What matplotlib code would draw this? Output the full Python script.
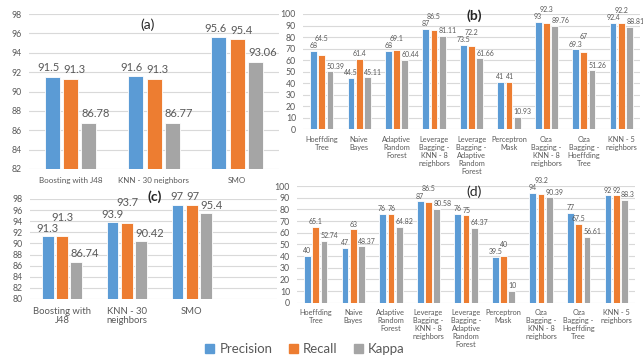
import matplotlib

matplotlib.use("Agg")
import matplotlib.pyplot as plt  # noqa: E402
import numpy as np  # noqa: E402

plt.rcParams.update({"font.family": ["Lato", "DejaVu Sans"]})

BLUE, ORANGE, GRAY = "#5b9bd5", "#ed7d31", "#a5a5a5"
TXT = "#595959"
GRID = "#d9d9d9"

# batch classifiers: (a) and (c)
BATCH_A = ["Boosting with J48", "KNN - 30 neighbors", "SMO"]
BATCH_C = ["Boosting with\nJ48", "KNN - 30\nneighbors", "SMO"]
A_PREC = [91.5, 91.6, 95.6]
A_REC = [91.3, 91.3, 95.4]
A_KAP = [86.78, 86.77, 93.06]
C_PREC = [91.3, 93.9, 97]
C_REC = [91.3, 93.7, 97]
C_KAP = [86.74, 90.42, 95.4]

# stream classifiers: (b) and (d)
STREAM = ["Hoeffding\nTree", "Naive\nBayes", "Adaptive\nRandom\nForest",
          "Leverage\nBagging -\nKNN - 8\nneighbors",
          "Leverage\nBagging -\nAdaptive\nRandom\nForest",
          "Perceptron\nMask", "Oza\nBagging -\nKNN - 8\nneighbors",
          "Oza\nBagging -\nHoeffding\nTree", "KNN - 5\nneighbors"]
B_PREC = [68, 44.5, 68, 87, 73.5, 41, 93, 69.3, 92.4]
B_REC = [64.5, 61.4, 69.1, 86.5, 72.2, 41, 92.3, 67, 92.2]
B_KAP = [50.39, 45.11, 60.44, 81.11, 61.66, 10.93, 89.76, 51.26, 88.81]
D_PREC = [40, 47, 76, 87, 76, 39.5, 94, 77, 92]
D_REC = [65.1, 63, 76, 86.5, 75, 40, 93.2, 67.5, 92]
D_KAP = [52.74, 48.37, 64.82, 80.58, 64.37, 10, 90.39, 56.61, 88.3]

W, H, DPI = 6.43, 3.58, 100
fig = plt.figure(figsize=(W, H), dpi=DPI)


def _fmt(v):
    return f"{v:g}"


def _hclash(a, b, sep):
    """horizontal clash (pt) between two label boxes; 0 when they miss vertically"""
    if a[2] >= b[3] or b[2] >= a[3]:
        return 0.0
    return min(a[1], b[1]) - max(a[0], b[0]) + sep


def panel(rect, cats, prec, rec, kap, ylim, ystep, xlim, fs_val, fs_cat,
          cat_pad, linespacing=1.0, width=0.18, step=0.22, gap=1.2,
          nudge=3.0, sep=1.0):
    ax = fig.add_axes(rect)
    ax.set_xlim(*xlim)
    ax.set_ylim(*ylim)
    x = np.arange(len(cats))
    series = ((prec, BLUE), (rec, ORANGE), (kap, GRAY))
    for k, (vals, color) in enumerate(series):
        ax.bar(x + (k - 1) * step, vals, width, color=color,
               edgecolor="white", linewidth=0.6, zorder=2)
    ax.set_yticks(np.arange(ylim[0], ylim[1] + 0.1, ystep))
    ax.set_xticks(x, cats, fontsize=fs_cat, color=TXT, linespacing=linespacing,
                  va="top")
    ax.tick_params(axis="x", length=0, pad=cat_pad)
    ax.tick_params(axis="y", length=0, pad=5, labelsize=6.3, labelcolor=TXT)
    ax.grid(axis="y", color=GRID, linewidth=0.8, zorder=0)
    for s in ax.spines.values():
        s.set_visible(False)

    # value labels: blue/orange centred, kappa left-aligned on its bar.
    # a small clash between blue and orange pushes them apart sideways,
    # a larger one lifts the later label
    to_pt = 72.0 / DPI
    unit_pt = (ax.transData.transform((1, 0))[0]
               - ax.transData.transform((0, 0))[0]) * to_pt
    for i in range(len(cats)):
        labs = []
        for k, (vals, _) in enumerate(series):
            v = vals[i]
            xc = x[i] + (k - 1) * step
            px, py = ax.transData.transform((xc, v)) * to_pt
            txt = _fmt(v)
            tw = fs_val * (0.6 * sum(c.isdigit() for c in txt) + 0.27 * ("." in txt))
            if k == 2:
                x0 = px - width / 2 * unit_pt
                ha, xa = "left", xc - width / 2
            else:
                x0 = px - tw / 2
                ha, xa = "center", xc
            labs.append({"txt": txt, "xa": xa, "v": v, "ha": ha, "py": py,
                         "dx": 0.0, "box": [x0, x0 + tw, py + gap, py + gap + fs_val]})
        blue, orange, gray = labs
        ov = _hclash(orange["box"], blue["box"], sep)
        if 0 < ov <= nudge:
            for lab, sgn in ((blue, -1), (orange, 1)):
                lab["dx"] += sgn * ov / 2
                lab["box"][0] += sgn * ov / 2
                lab["box"][1] += sgn * ov / 2
        elif ov > nudge:
            lift = blue["box"][3] + 0.3 - orange["box"][2]
            orange["box"][2] += lift
            orange["box"][3] += lift
        if _hclash(gray["box"], orange["box"], 0) > 0:
            lift = orange["box"][3] + 0.3 - gray["box"][2]
            gray["box"][2] += lift
            gray["box"][3] += lift
        for lab in labs:
            ax.annotate(lab["txt"], (lab["xa"], lab["v"]),
                        xytext=(lab["dx"], lab["box"][2] - lab["py"]),
                        textcoords="offset points", ha=lab["ha"], va="bottom",
                        fontsize=fs_val, color=TXT, annotation_clip=False)
    return ax


def frac(x0, y_top, x1, y_bot):
    return [x0 / 643, 1 - y_bot / 358, (x1 - x0) / 643, (y_bot - y_top) / 358]


panel(frac(29, 14, 279, 169), BATCH_A, A_PREC, A_REC, A_KAP,
      (82, 98), 2, (-0.5, 2.5), 8, 5.8, 6, gap=2.5, nudge=6, sep=2)
panel(frac(303, 14, 640, 129.3), STREAM, B_PREC, B_REC, B_KAP,
      (0, 100), 10, (-0.5, 8.5), 5, 5.3, 5, linespacing=1.15, nudge=2, sep=0.8)
panel(frac(29.5, 199, 277, 299), BATCH_C, C_PREC, C_REC, C_KAP,
      (80, 98), 2, (-0.5, 3.31), 8, 6.8, 5.5, linespacing=1.1, gap=1.5,
      nudge=6, sep=2)
panel(frac(297, 186, 635, 302.7), STREAM, D_PREC, D_REC, D_KAP,
      (0, 100), 10, (-0.5, 8.5), 5, 5.3, 4.5, linespacing=1.15, nudge=2, sep=0.8)

for lbl, px, py, wt in (("(a)", 148, 25, "normal"), ("(b)", 474, 16, "bold"),
                        ("(c)", 155, 197, "bold"), ("(d)", 474, 192, "normal")):
    fig.text(px / 643, 1 - py / 358, lbl, ha="center", va="center",
             fontsize=10, color="#262626", fontweight=wt)

handles = [plt.Rectangle((0, 0), 1, 1, color=c) for c in (BLUE, ORANGE, GRAY)]
fig.legend(handles, ["Precision", "Recall", "Kappa"], loc="center",
           bbox_to_anchor=(305 / 643, 1 - 349 / 358), ncol=3, frameon=False,
           fontsize=9.5, handlelength=0.7, handleheight=0.7, handletextpad=0.4,
           columnspacing=1.2, labelcolor=TXT)

fig.savefig("out.png", dpi=DPI)
